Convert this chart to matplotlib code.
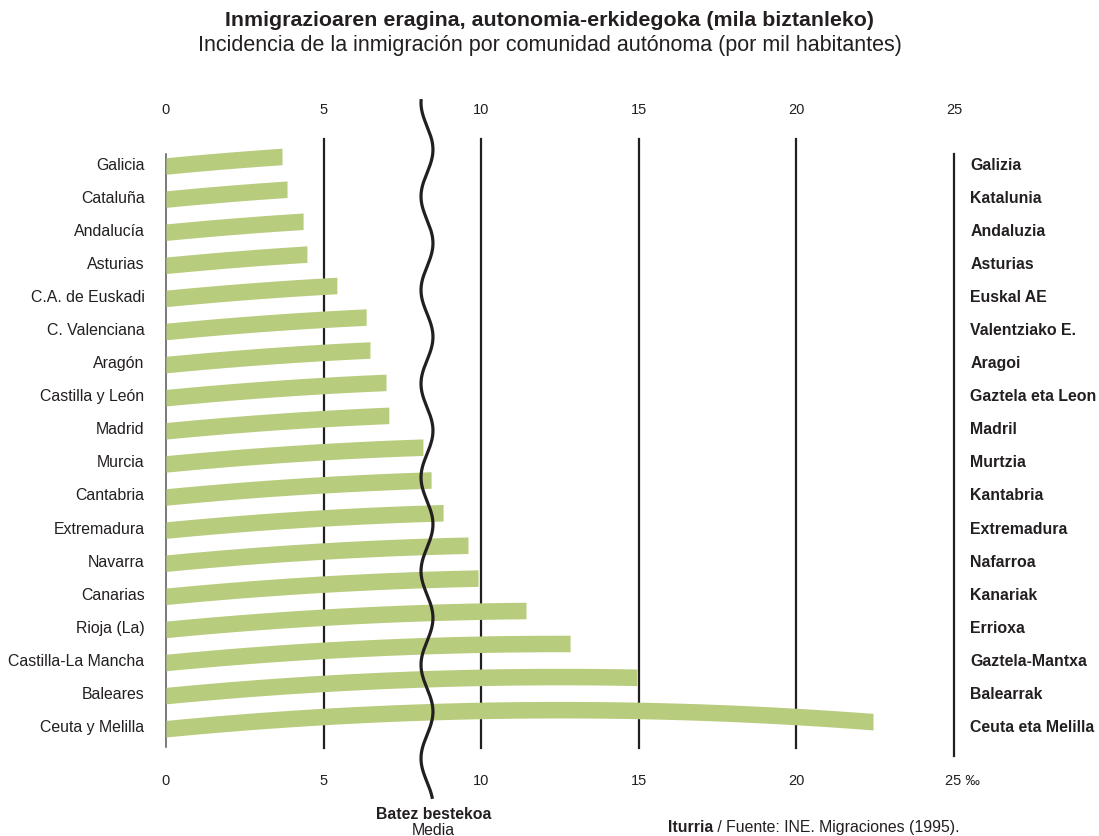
import numpy as np
import matplotlib
matplotlib.use('Agg')
import matplotlib.pyplot as plt

# Data: incidence of immigration per 1000 inhabitants (1995)
regions_es = ['Galicia', 'Cataluña', 'Andalucía', 'Asturias', 'C.A. de Euskadi',
              'C. Valenciana', 'Aragón', 'Castilla y León', 'Madrid', 'Murcia',
              'Cantabria', 'Extremadura', 'Navarra', 'Canarias', 'Rioja (La)',
              'Castilla-La Mancha', 'Baleares', 'Ceuta y Melilla']
regions_eu = ['Galizia', 'Katalunia', 'Andaluzia', 'Asturias', 'Euskal AE',
              'Valentziako E.', 'Aragoi', 'Gaztela eta Leon', 'Madril', 'Murtzia',
              'Kantabria', 'Extremadura', 'Nafarroa', 'Kanariak', 'Errioxa',
              'Gaztela-Mantxa', 'Balearrak', 'Ceuta eta Melilla']
values = [3.68, 3.84, 4.35, 4.47, 5.42, 6.35, 6.47, 6.98, 7.07, 8.15,
          8.41, 8.79, 9.58, 9.90, 11.42, 12.82, 14.94, 22.43]
media = 8.28
ticks = [0, 5, 10, 15, 20, 25]

green = '#b8cc7e'
ink = '#231f20'
plt.rcParams['font.family'] = ['Liberation Sans', 'DejaVu Sans']

fig = plt.figure(figsize=(10.99, 8.37), dpi=100)
ax = fig.add_axes([0, 0, 1, 1])
# x: 31.52 px per unit, 0 at px 166 ; y: row units, 33.1 px per row, row 0 at px 165
ax.set_xlim(-166 / 31.52, (1099 - 166) / 31.52)
ax.set_ylim((837 - 165) / 33.1, -165 / 33.1)
ax.axis('off')

# vertical reference lines
for t in ticks:
    if t == 0:
        ax.plot([t, t], [-0.3, 17.6], color='#555555', lw=1.1, zorder=1)
    elif t == 25:
        ax.plot([t, t], [-0.3, 17.9], color=ink, lw=1.6, zorder=1)
    else:
        ax.plot([t, t], [-0.75, 17.65], color=ink, lw=1.6, zorder=1)
    ax.text(t, -1.66, str(t), ha='center', va='center', fontsize=10.5, color=ink)
    lab = '25 ‰' if t == 25 else str(t)
    ax.text(t - (0.3 if t == 25 else 0), 18.6, lab, ha='left' if t == 25 else 'center',
            va='center', fontsize=10.5, color=ink)

# curved bars
k = 0.003674
half = 0.25
for i, v in enumerate(values):
    xs = np.linspace(0, v, 200)
    yc = i + 0.06 - k * xs * (25 - xs)
    ax.fill_between(xs, yc - half, yc + half, color=green, lw=0, zorder=2)
    ax.text(-0.68, i, regions_es[i], ha='right', va='center', fontsize=11.4, color=ink)
    ax.text(25.52, i, regions_eu[i], ha='left', va='center', fontsize=11.4,
            fontweight='bold', color=ink)

# wavy "media" line
yy = np.linspace(-1.96, 19.18, 600)
xx = media - 0.19 * np.cos(2 * np.pi * (yy + 1.85) / 2.83)
ax.plot(xx, yy, color=ink, lw=2.3, zorder=3, solid_capstyle='butt')
ax.text(media + 0.2, 19.63, 'Batez bestekoa', ha='center', va='center', fontsize=11.4,
        fontweight='bold', color=ink)
ax.text(media + 0.2, 20.1, 'Media', ha='center', va='center', fontsize=11.4, color=ink)

# titles
fig.text(0.5, 1 - 20 / 837, 'Inmigrazioaren eragina, autonomia-erkidegoka (mila biztanleko)',
         ha='center', va='center', fontsize=15.4, fontweight='bold', color=ink)
fig.text(0.5, 1 - 46 / 837, 'Incidencia de la inmigración por comunidad autónoma (por mil habitantes)',
         ha='center', va='center', fontsize=15.5, color=ink)

# source
t1 = fig.text(668 / 1099, 1 - 828 / 837, 'Iturria', ha='left', va='center', fontsize=11.4,
              fontweight='bold', color=ink)
fig.canvas.draw()
bb = t1.get_window_extent()
fig.text(bb.x1 / 1099, 1 - 828 / 837, ' / Fuente: INE. Migraciones (1995).', ha='left',
         va='center', fontsize=11.4, color=ink)

fig.savefig('out.png', dpi=100, facecolor='white')
